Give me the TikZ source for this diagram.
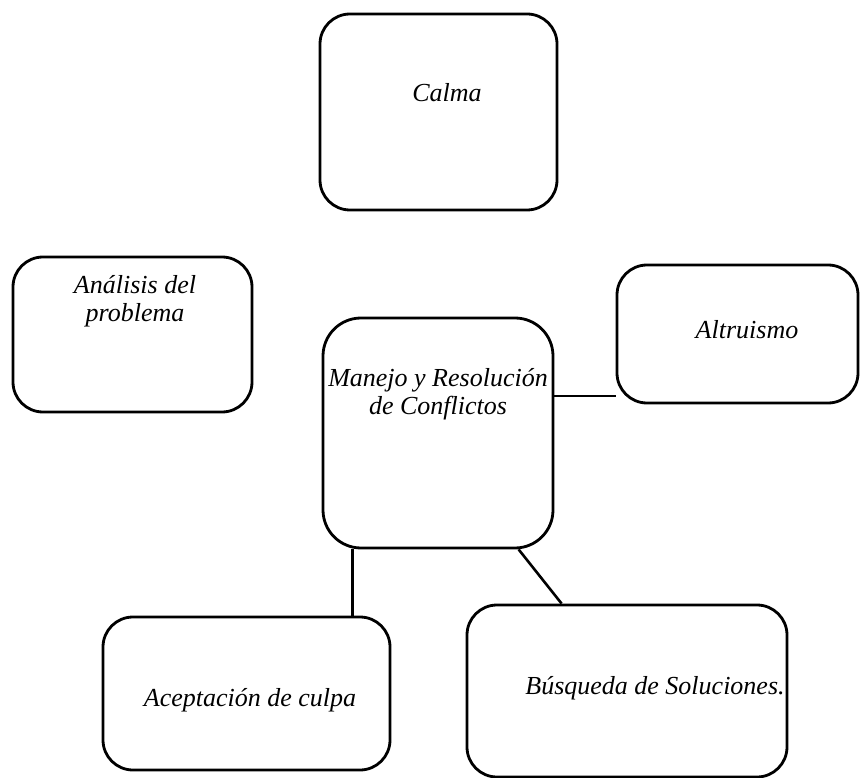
\documentclass[tikz,border=0pt]{standalone}
\usepackage{fontspec}
\setmainfont{Liberation Serif}
\usetikzlibrary{positioning, calc}

\begin{document}
\begin{tikzpicture}[x=1pt, y=-1pt,
  caja/.style={draw=black, line width=2.8pt, rounded corners=30pt, inner sep=0pt},
  etiqueta/.style={font=\fontsize{26}{28}\selectfont\itshape, align=center, inner sep=0pt},
  enlace/.style={draw=black, line width=2.6pt}]
  \useasboundingbox (0,0) rectangle (860,778);

  % cajas
  \node[caja, minimum width=237pt, minimum height=196pt] (calma) at (438.5,112) {};
  \node[caja, minimum width=239pt, minimum height=155pt] (analisis) at (132.5,334.5) {};
  \node[caja, minimum width=241pt, minimum height=138pt] (altruismo) at (737.5,334) {};
  \node[caja, rounded corners=38pt, minimum width=230pt, minimum height=230pt] (manejo) at (438,433) {};
  \node[caja, minimum width=287pt, minimum height=153pt] (aceptacion) at (246.5,693.5) {};
  \node[caja, minimum width=320pt, minimum height=172pt] (busqueda) at (627,691) {};

  % textos
  \node[etiqueta] (tcalma) at (447,93) {Calma};
  \node[etiqueta] (tanalisis) at (135,301) {Análisis del\\problema};
  \node[etiqueta] (taltruismo) at (747,330) {Altruismo};
  \node[etiqueta] (tmanejo) at (438,394) {Manejo y Resolución\\de Conflictos};
  \node[etiqueta] (taceptacion) at (250,700) {Aceptación de culpa};
  \node[etiqueta] (tbusqueda) at (655,688) {Búsqueda de Soluciones.};

  % conexiones
  \draw[enlace] ($(manejo.east)+(0,-37)$) coordinate (m1) -- (m1 -| altruismo.west);
  \draw[enlace] ($(manejo.south west)+(31,0)$) coordinate (m2) -- (m2 |- aceptacion.north);
  \draw[enlace] ($(manejo.south west)+(197,0)$) -- ($(busqueda.north west)+(96,0)$);
\end{tikzpicture}
\end{document}
